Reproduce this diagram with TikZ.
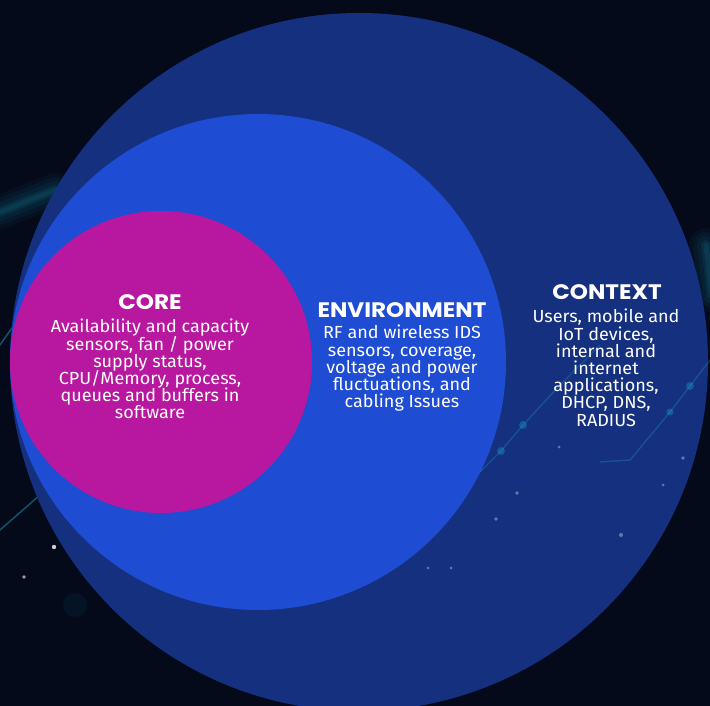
\documentclass[tikz,border=0pt]{standalone}
\usepackage{fontspec}
\setmainfont{Fira Sans}[FakeStretch=1.03]
\newfontfamily\titlefont{Poppins}[FakeStretch=1.1]
\definecolor{bgc}{HTML}{040A1A}
\definecolor{outerc}{HTML}{14307F}
\definecolor{envc}{HTML}{1E4CD3}
\definecolor{corec}{HTML}{B8189F}
\definecolor{glowc}{HTML}{1FB8D8}
\tikzset{
  ring/.style={circle, inner sep=0pt, draw=none},
  titletext/.style={text=white, inner sep=0pt, font={\titlefont\bfseries\fontsize{21}{24}\selectfont}},
  bodytext/.style={text=white, inner sep=0pt, align=center, anchor=north, font={\fontsize{17.5}{17.2}\selectfont\lineskiplimit=-20pt}},
  deco/.style={glowc, line width=1.4pt, opacity=0.45, line cap=round},
  dot/.style={fill=white, opacity=0.35}
}
\begin{document}
\begin{tikzpicture}[x=1pt,y=-1pt]
\fill[bgc] (0,0) rectangle (710,706);
\useasboundingbox (0,0) rectangle (710,706);
% background glows
\foreach \w/\o in {34/0.04, 26/0.05, 18/0.06, 10/0.08, 5/0.10}{
  \draw[glowc, opacity=\o, line width=\w pt, line cap=round] (0,212) -- (55,190);
  \draw[glowc, opacity=\o, line width=\w pt, line cap=round] (706,245) -- (712,295);
}
\draw[deco] (0,345) -- (14,325);
\draw[deco] (0,530) -- (40,495);
\fill[dot, opacity=0.8] (54,547) circle (2.2pt);
\fill[dot, opacity=0.6] (24,577) circle (1.8pt);
\fill[glowc, opacity=0.06] (75,605) circle (12pt);
% circles
\node[ring, fill=outerc, minimum size=698pt] (context) at (359,362) {};
\node[ring, fill=envc, minimum size=496pt] (environment) at (258,362) {};
\node[ring, fill=corec, minimum size=302pt] (core) at (161,362) {};
% decorative lines over the outer circle
\draw[deco, opacity=0.25] (480,472) -- (501,451) -- (523,425) -- (560,385) -- (600,345);
\fill[glowc, opacity=0.3] (501,451) circle (4pt) (523,425) circle (4pt);
\draw[deco, opacity=0.25] (600,462) -- (630,460) -- (670,412) -- (690,386) -- (710,360);
\fill[glowc, opacity=0.3] (670,412) circle (3.5pt) (690,386) circle (4pt);
\fill[dot] (517,493) circle (1.8pt) (496,519) circle (1.8pt) (451,568) circle (1.5pt) (428,568) circle (1.5pt) (683,458) circle (1.8pt) (663,485) circle (1.5pt) (621,535) circle (2pt) (559,447) circle (1.5pt);
% texts
\node[titletext] (coretitle) at (150,302) {CORE};
\node[bodytext] (corebody) at (150,319) {Availability and capacity\\sensors, fan / power\\supply status,\\CPU/Memory, process,\\queues and buffers in\\software};
\node[titletext] (envtitle) at (402,310) {ENVIRONMENT};
\node[bodytext] (envbody) at (402,325) {RF and wireless IDS\\sensors, coverage,\\voltage and power\\fluctuations, and\\cabling Issues};
\node[titletext] (ctxtitle) at (607,292) {CONTEXT};
\node[bodytext] (ctxbody) at (606,309) {Users, mobile and\\IoT devices,\\internal and\\internet\\applications,\\DHCP, DNS,\\RADIUS};
\end{tikzpicture}
\end{document}
